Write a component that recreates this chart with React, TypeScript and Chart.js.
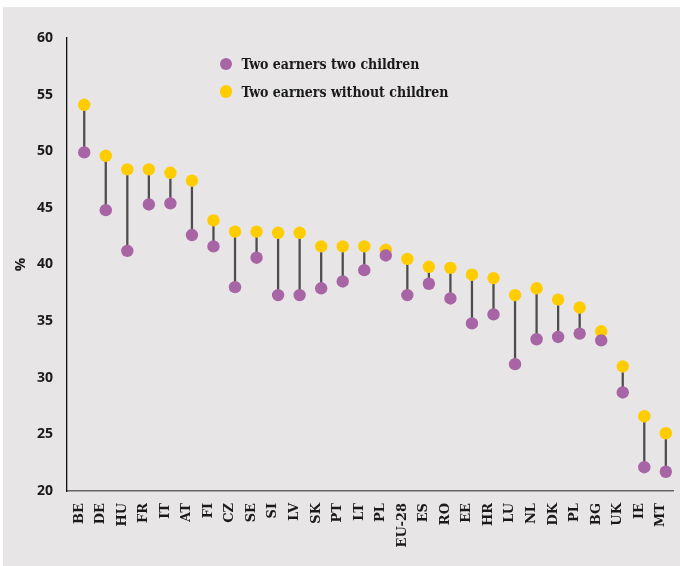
import React, { useEffect, useRef } from "react";
import { Chart, registerables } from "chart.js";

Chart.register(...registerables);

const countries = [
  "BE", "DE", "HU", "FR", "IT", "AT", "FI", "CZ", "SE", "SI", "LV", "SK", "PT", "LT",
  "PL", "EU-28", "ES", "RO", "EE", "HR", "LU", "NL", "DK", "PL", "BG", "UK", "IE", "MT",
];

const twoChildren = [
  49.9, 44.8, 41.2, 45.3, 45.4, 42.6, 41.6, 38.0, 40.6, 37.3, 37.3, 37.9, 38.5, 39.5,
  40.8, 37.3, 38.3, 37.0, 34.8, 35.6, 31.2, 33.4, 33.6, 33.9, 33.3, 28.7, 22.1, 21.7,
];

const withoutChildren = [
  54.1, 49.6, 48.4, 48.4, 48.1, 47.4, 43.9, 42.9, 42.9, 42.8, 42.8, 41.6, 41.6, 41.6,
  41.3, 40.5, 39.8, 39.7, 39.1, 38.8, 37.3, 37.9, 36.9, 36.2, 34.1, 31.0, 26.6, 25.1,
];

const yTicks = [20, 25, 30, 35, 40, 45, 50, 55, 60];

const seriesNames = ["Two earners two children", "Two earners without children"];
const purple = "#a865a6";
const yellow = "#ffcc00";

export default function App() {
  const canvasRef = useRef<HTMLCanvasElement | null>(null);

  useEffect(() => {
    const canvas = canvasRef.current;
    if (!canvas) return;
    const chart = new Chart(canvas, {
      type: "bar",
      data: {
        datasets: [
          {
            type: "bar",
            label: "range",
            data: countries.map((_, i) => ({
              x: i,
              y: [twoChildren[i], withoutChildren[i]],
            })) as any,
            backgroundColor: "#4d4d4d",
            barThickness: 1.6,
            order: 3,
          },
          {
            type: "line",
            label: seriesNames[1],
            data: countries.map((_, i) => ({ x: i, y: withoutChildren[i] })),
            showLine: false,
            pointRadius: 6.2,
            pointBackgroundColor: yellow,
            pointBorderWidth: 0,
            backgroundColor: yellow,
            order: 2,
          },
          {
            type: "line",
            label: seriesNames[0],
            data: countries.map((_, i) => ({ x: i, y: twoChildren[i] })),
            showLine: false,
            pointRadius: 6.2,
            pointBackgroundColor: purple,
            pointBorderWidth: 0,
            backgroundColor: purple,
            order: 1,
          },
        ],
      },
      options: {
        animation: false,
        responsive: false,
        maintainAspectRatio: false,
        layout: { padding: { top: 38, right: 6, left: 0, bottom: 0 } },
        plugins: {
          legend: { display: false },
          tooltip: { enabled: false },
        },
        scales: {
          x: {
            type: "linear",
            offset: false,
            bounds: "data",
            min: -0.8,
            max: 27.37,
            grid: { display: false, drawTicks: false, offset: false },
            border: { display: true, color: "#666666", width: 1.5 },
            afterBuildTicks: (scale: any) => {
              scale.ticks = countries.map((_, i) => ({ value: i }));
            },
            afterFit: (scale: any) => {
              scale.height = 75;
              scale.paddingLeft = 0;
              scale.paddingRight = 0;
            },
            ticks: {
              autoSkip: false,
              maxRotation: 90,
              minRotation: 90,
              padding: 12,
              labelOffset: -5,
              color: "#1a1a1a",
              font: { family: "DejaVu Serif", weight: "bold", size: 13 },
              callback: (v: any) => countries[v as number] ?? "",
            },
          },
          y: {
            type: "linear",
            min: 20,
            max: 60,
            grid: { display: false, drawTicks: false },
            border: { display: true, color: "#111111", width: 1.3 },
            afterBuildTicks: (scale: any) => {
              scale.ticks = yTicks.map((v) => ({ value: v }));
            },
            afterFit: (scale: any) => {
              scale.width = 67;
            },
            ticks: {
              padding: 14,
              color: "#1a1a1a",
              font: { family: "Open Sans", weight: "bold", size: 14 },
            },
            title: {
              display: true,
              text: "%",
              color: "#1a1a1a",
              font: { family: "Open Sans", weight: "bold", size: 15 },
              padding: { top: 12, bottom: 0 },
            },
          },
        },
      },
    });
    return () => chart.destroy();
  }, []);

  const legendItem = (color: string, text: string, top: number) => (
    <div
      style={{
        position: "absolute",
        left: 220,
        top: top - 10,
        height: 20,
        display: "flex",
        alignItems: "center",
        whiteSpace: "nowrap",
      }}
    >
      <span
        style={{
          display: "inline-block",
          width: 12.4,
          height: 12.4,
          borderRadius: "50%",
          background: color,
          marginRight: 9,
        }}
      />
      <span
        style={{
          fontFamily: "'DejaVu Serif Condensed', 'DejaVu Serif', serif",
          fontStretch: "condensed",
          fontWeight: "bold",
          fontSize: 14,
          color: "#1a1a1a",
        }}
      >
        {text}
      </span>
    </div>
  );

  return (
    <div
      style={{
        position: "fixed",
        left: 0,
        top: 0,
        width: 680,
        height: 566,
        background: "#ffffff",
        overflow: "hidden",
      }}
    >
      <div
        style={{
          position: "absolute",
          left: 3,
          top: 7,
          right: 0,
          bottom: 0,
          background: "#e7e5e6",
        }}
      />
      <canvas
        ref={canvasRef}
        width={680}
        height={566}
        style={{ position: "absolute", left: 0, top: 0, width: 680, height: 566 }}
      />
      {legendItem(purple, seriesNames[0], 64)}
      {legendItem(yellow, seriesNames[1], 91.5)}
    </div>
  );
}
